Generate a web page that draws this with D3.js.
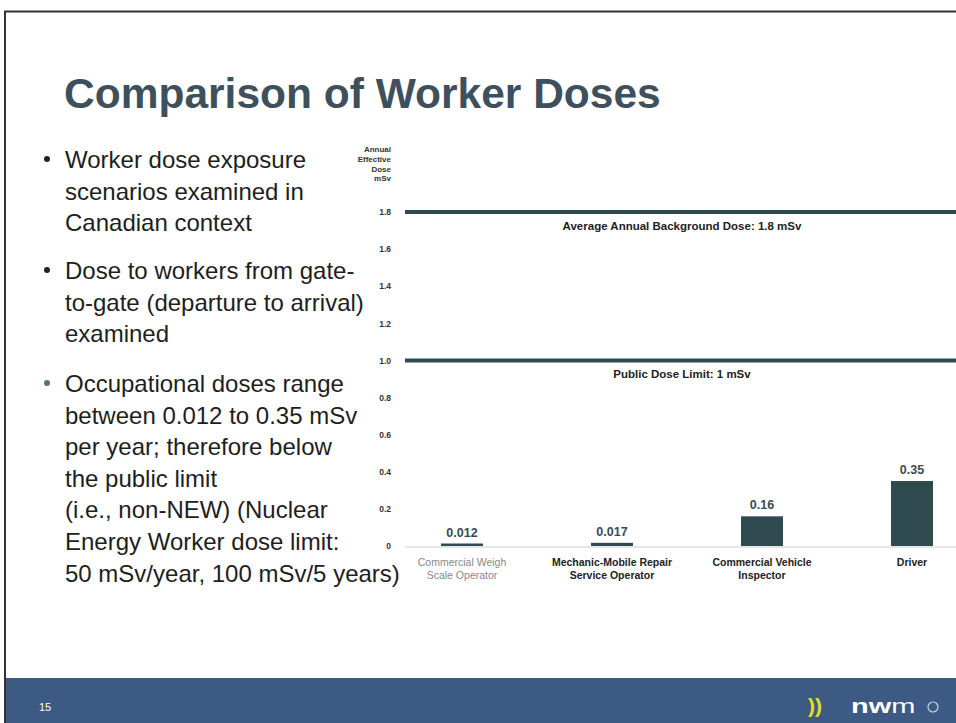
<!DOCTYPE html>
<html><head><meta charset="utf-8">
<script src="https://cdn.jsdelivr.net/npm/d3@7"></script>
<style>html,body{margin:0;padding:0;background:#fff;}svg{display:block;}</style>
</head><body>
<script>
const categories = [["Commercial Weigh","Scale Operator"],["Mechanic-Mobile Repair","Service Operator"],["Commercial Vehicle","Inspector"],["Driver"]];
const doses = [0.012, 0.017, 0.16, 0.35];
const doseLabels = ["0.012","0.017","0.16","0.35"];
const yTicks = [0,0.2,0.4,0.6,0.8,1.0,1.2,1.4,1.6,1.8];
const refValues = [1.8, 1.0];
const refLabels = ["Average Annual Background Dose: 1.8 mSv","Public Dose Limit: 1 mSv"];
const yTitle = ["Annual","Effective","Dose","mSv"];
const title = "Comparison of Worker Doses";
const bullets = [
  ["Worker dose exposure","scenarios examined in","Canadian context"],
  ["Dose to workers from gate-","to-gate (departure to arrival)","examined"],
  ["Occupational doses range","between 0.012 to 0.35 mSv","per year; therefore below","the public limit","(i.e., non-NEW) (Nuclear","Energy Worker dose limit:","50 mSv/year, 100 mSv/5 years)"]
];

const W = 956, H = 723;
const svg = d3.select("body").append("svg").attr("width", W).attr("height", H);
const font = "Liberation Sans, Arial, sans-serif";

// border
svg.append("line").attr("x1",4).attr("x2",W).attr("y1",11.5).attr("y2",11.5).attr("stroke","#333").attr("stroke-width",2);
svg.append("line").attr("x1",5).attr("x2",5).attr("y1",11).attr("y2",H).attr("stroke","#333").attr("stroke-width",2);

// title
svg.append("text").attr("x",64).attr("y",108).attr("font-family",font).attr("font-weight","bold")
  .attr("font-size",42.5).attr("fill","#3f505d").text(title);

// bullets
const bulletStarts = [168, 279, 392];
const lineH = 31.6;
bullets.forEach((b,i)=>{
  svg.append("circle").attr("cx",47).attr("cy",bulletStarts[i]-9).attr("r",3)
    .attr("fill", i===2 ? "#4f7284" : "#222");
  b.forEach((l,j)=>{
    svg.append("text").attr("x",65).attr("y",bulletStarts[i]+j*lineH).attr("font-family",font)
      .attr("font-size",24).attr("fill","#1e1e1e").text(l);
  });
});

// chart
const x = d3.scaleBand().domain(d3.range(categories.length)).range([387, 987]);
const y = d3.scaleLinear().domain([0,1.8]).range([546, 212]);
const barW = 42;
const dark = "#2e4a4e";

// y axis
const yAxis = svg.append("g").attr("transform","translate(391,0)")
  .call(d3.axisLeft(y).tickValues(yTicks).tickSize(0).tickPadding(0)
    .tickFormat(d=> d===0 ? "0" : d3.format(".1f")(d)));
yAxis.select(".domain").remove();
yAxis.selectAll("text").attr("font-family",font).attr("font-size",8.5).attr("font-weight","bold").attr("fill","#333");

yTitle.forEach((t,i)=>{
  svg.append("text").attr("x",391).attr("y",152+i*9.8).attr("text-anchor","end")
    .attr("font-family",font).attr("font-size",8).attr("font-weight","bold").attr("fill","#333").text(t);
});

// baseline
svg.append("line").attr("x1",405).attr("x2",W).attr("y1",y(0)+1).attr("y2",y(0)+1).attr("stroke","#ddd").attr("stroke-width",1.5);

// reference lines
refValues.forEach((v,i)=>{
  svg.append("line").attr("x1",405).attr("x2",W).attr("y1",y(v)).attr("y2",y(v))
    .attr("stroke",dark).attr("stroke-width",4);
  svg.append("text").attr("x",682).attr("y",y(v)+18).attr("text-anchor","middle")
    .attr("font-family",font).attr("font-size",11.5).attr("font-weight","bold").attr("fill","#222").text(refLabels[i]);
});

// bars
const bars = svg.append("g");
doses.forEach((d,i)=>{
  const cx = x(i) + x.bandwidth()/2;
  const top = Math.min(y(d), y(0)-2.5);
  bars.append("rect").attr("x",cx-barW/2).attr("y",top).attr("width",barW).attr("height",y(0)-top)
    .attr("fill",dark);
  bars.append("text").attr("x",cx).attr("y",top-7).attr("text-anchor","middle")
    .attr("font-family",font).attr("font-size",12.5).attr("font-weight","bold").attr("fill","#3a4a56").text(doseLabels[i]);
  categories[i].forEach((l,j)=>{
    bars.append("text").attr("x",cx).attr("y",566+j*12.5).attr("text-anchor","middle")
      .attr("font-family",font).attr("font-size",10.5).attr("font-weight", i===0?"normal":"bold")
      .attr("fill", i===0 ? "#888" : "#222").text(l);
  });
});

// footer
svg.append("rect").attr("x",6).attr("y",678).attr("width",W-6).attr("height",H-678).attr("fill","#3c5a83");
svg.append("text").attr("x",39).attr("y",711).attr("font-family",font).attr("font-size",11).attr("fill","#fff").text("15");
svg.append("text").attr("x",808).attr("y",713).attr("font-family",font).attr("font-size",21).attr("font-weight","bold").attr("fill","#e6e020").text("))");
const logo = svg.append("text").attr("transform","translate(851,713) scale(1.45,1)").attr("font-family",font).attr("font-size",20).attr("fill","#fff");
logo.append("tspan").attr("font-weight","bold").text("nw");
logo.append("tspan").attr("font-weight","normal").text("m");
svg.append("circle").attr("cx",933).attr("cy",707).attr("r",5).attr("fill","none").attr("stroke","#cdd6e2").attr("stroke-width",1.2);
</script>
</body></html>
